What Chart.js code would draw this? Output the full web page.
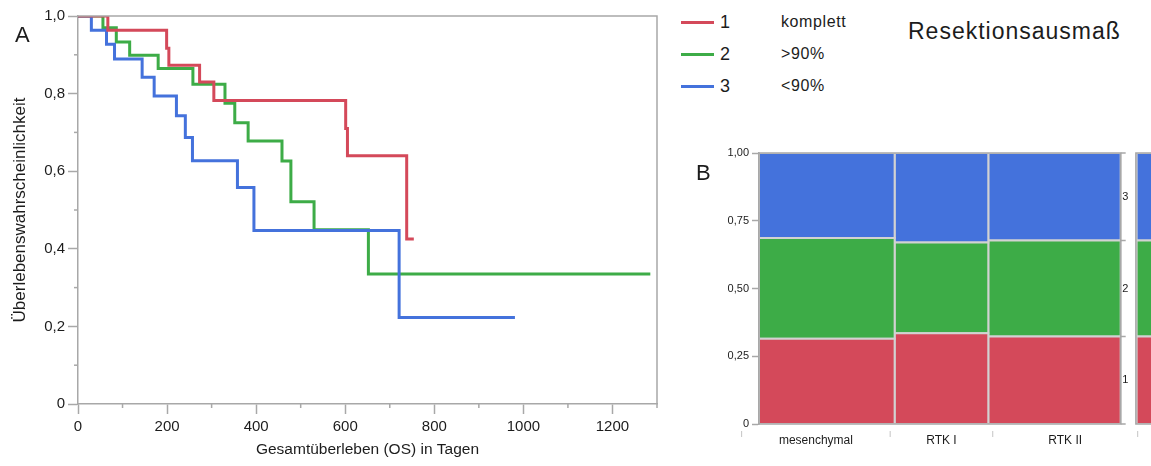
<!DOCTYPE html>
<html lang="de">
<head>
    <meta charset="UTF-8">
    <title>Überleben nach Resektionsausmaß</title>
    <style>
        body { margin: 0; background: #fff; font-family: 'Liberation Sans', Arial, sans-serif; color: #1c1c1c; }
        #blatt { position: relative; width: 1151px; height: 466px; overflow: hidden; }
        canvas { position: absolute; }
        #tafelA { left: 0; top: 0; }
        #tafelB { left: 680px; top: 140px; }
        .buchstabe { position: absolute; font-size: 22px; line-height: 1; }
        #legende { position: absolute; left: 681px; top: 6px; }
        .zeile { display: flex; align-items: center; height: 32px; }
        .strich { width: 33px; height: 3px; }
        .nr { font-size: 18px; margin-left: 6px; width: 61px; }
        .text { font-size: 16px; letter-spacing: 0.6px; }
        #titel { position: absolute; left: 908px; top: 20px; font-size: 23px; letter-spacing: 1px; line-height: 1; }
    </style>
</head>
<body>
<div id="blatt">
    <canvas id="tafelA" width="680" height="466"></canvas>
    <canvas id="tafelB" width="471" height="326"></canvas>
    <div class="buchstabe" style="left:15px; top:24px;">A</div>
    <div class="buchstabe" style="left:696px; top:162px;">B</div>
    <div id="legende"></div>
    <div id="titel">Resektionsausmaß</div>
</div>

<script src="https://cdn.jsdelivr.net/npm/chart.js"></script>
<script>
    // Kaplan-Meier: Tag des Ereignisses und Überlebenswahrscheinlichkeit danach
    const tage1 = [0, 67, 199, 204, 273, 305, 601, 605, 738, 754];
    const surv1 = [1.0, 0.963, 0.917, 0.873, 0.830, 0.782, 0.710, 0.640, 0.425, 0.425];
    const tage2 = [0, 56, 86, 116, 180, 258, 330, 352, 382, 458, 478, 530, 652, 1285];
    const surv2 = [1.0, 0.970, 0.933, 0.899, 0.865, 0.824, 0.775, 0.725, 0.678, 0.626, 0.521, 0.449, 0.335, 0.335];
    const tage3 = [0, 30, 64, 82, 144, 171, 221, 241, 257, 358, 395, 721, 981];
    const surv3 = [1.0, 0.963, 0.927, 0.889, 0.842, 0.794, 0.743, 0.687, 0.627, 0.558, 0.447, 0.223, 0.223];

    const gruppenNr = ['1', '2', '3'];
    const resektion = ['komplett', '>90%', '<90%'];

    // Mosaik: Anteil je Subtyp (Spaltenbreite) und Anteile der Resektionsgruppen
    const subtypen = ['mesenchymal', 'RTK I', 'RTK II'];
    const subtypAnteil = [0.375, 0.259, 0.366];
    const anteilKomplett = [0.315, 0.335, 0.3225];
    const anteilUeber90 = [0.371, 0.335, 0.3545];
    const anteilUnter90 = [0.314, 0.330, 0.323];
    const gesamtAnteil = [0.3225, 0.3545, 0.323];

    const farben = ['#d4495a', '#3dac47', '#4472dc'];
    const grau = '#a8a8a8';
    const schrift = "'Liberation Sans', Arial, sans-serif";
    Chart.defaults.font.family = schrift;
    Chart.defaults.color = '#1c1c1c';

    // Legende oben
    const legende = document.getElementById('legende');
    gruppenNr.forEach((nr, i) => {
        const z = document.createElement('div');
        z.className = 'zeile';
        z.innerHTML = '<div class="strich" style="background:' + farben[i] + '"></div>' +
            '<span class="nr">' + nr + '</span><span class="text"></span>';
        z.querySelector('.text').textContent = resektion[i];
        legende.appendChild(z);
    });

    // ---------- A: Überlebenskurven ----------
    const istHaupt = (achse, v) => achse === 'x' ? v % 200 === 0 : Math.round(v * 10) % 2 === 0;

    const rahmenA = {
        id: 'rahmenA',
        afterDraw(chart) {
            const {ctx, chartArea: a} = chart;
            ctx.save();
            ctx.strokeStyle = grau;
            ctx.lineWidth = 1.5;
            ctx.beginPath();
            ctx.moveTo(a.left, a.top);
            ctx.lineTo(a.right, a.top);
            ctx.lineTo(a.right, a.bottom);
            ctx.stroke();
            ['x', 'y'].forEach(id => {
                const s = chart.scales[id];
                s.ticks.forEach(t => {
                    if (istHaupt(id, t.value)) return;
                    const p = s.getPixelForValue(t.value);
                    ctx.beginPath();
                    if (id === 'x') { ctx.moveTo(p, a.bottom); ctx.lineTo(p, a.bottom + 4); }
                    else { ctx.moveTo(a.left, p); ctx.lineTo(a.left - 4, p); }
                    ctx.stroke();
                });
            });
            ctx.restore();
        }
    };

    function kurve(tage, surv, farbe, reihenfolge) {
        return {
            data: tage.map((t, i) => ({x: t, y: surv[i]})),
            borderColor: farbe,
            borderWidth: 3,
            stepped: 'before',
            pointRadius: 0,
            fill: false,
            order: reihenfolge
        };
    }

    new Chart(document.getElementById('tafelA'), {
        type: 'line',
        data: {
            datasets: [
                kurve(tage1, surv1, farben[0], 0),
                kurve(tage2, surv2, farben[1], 2),
                kurve(tage3, surv3, farben[2], 1)
            ]
        },
        options: {
            responsive: false,
            animation: false,
            layout: {padding: {top: 16, right: 23, left: 0, bottom: 0}},
            plugins: {legend: {display: false}, tooltip: {enabled: false}},
            scales: {
                x: {
                    type: 'linear', min: 0, max: 1300,
                    ticks: {
                        stepSize: 100, autoSkip: false, maxRotation: 0, padding: 4,
                        font: {size: 15},
                        callback: v => v % 200 === 0 ? String(v) : ''
                    },
                    grid: {
                        drawOnChartArea: false, tickLength: 10, tickWidth: 1.5,
                        tickColor: c => istHaupt('x', c.tick.value) ? grau : 'rgba(0,0,0,0)'
                    },
                    border: {color: grau, width: 1.5},
                    title: {display: true, text: 'Gesamtüberleben (OS) in Tagen', font: {size: 15.5}, padding: {top: 0, bottom: 7}},
                    afterFit: s => { s.height = 62; }
                },
                y: {
                    min: 0, max: 1,
                    ticks: {
                        stepSize: 0.1, autoSkip: false, padding: 3,
                        font: {size: 15},
                        callback: v => {
                            if (!istHaupt('y', v)) return '';
                            return v === 0 ? '0' : v.toFixed(1).replace('.', ',');
                        }
                    },
                    grid: {
                        drawOnChartArea: false, tickLength: 10, tickWidth: 1.5,
                        tickColor: c => istHaupt('y', c.tick.value) ? grau : 'rgba(0,0,0,0)'
                    },
                    border: {color: grau, width: 1.5},
                    title: {display: true, text: 'Überlebenswahrscheinlichkeit', font: {size: 17}, padding: {top: 10, bottom: 0}},
                    afterFit: s => { s.width = 78; }
                }
            }
        },
        plugins: [rahmenA]
    });

    // ---------- B: Mosaik Subtyp x Resektion ----------
    const randVon = 1.044;      // Beginn der Randspalte rechts
    const achseVon = -0.048;    // untere Kategorienachse
    const achseBis = 1.047;

    function rechteck(x0, x1, y0, y1, farbe) {
        return {
            data: [{x: x0, y: y0}, {x: x1, y: y0}, {x: x1, y: y1}, {x: x0, y: y1}, {x: x0, y: y0}],
            showLine: true,
            fill: 'shape',
            backgroundColor: farbe,
            borderColor: '#d2d2d2',
            borderWidth: 2,
            pointRadius: 0
        };
    }

    const reihen = [anteilKomplett, anteilUeber90, anteilUnter90];
    const zellen = [];
    let links = 0;
    subtypen.forEach((s, j) => {
        const rechts = links + subtypAnteil[j];
        let unten = 0;
        reihen.forEach((reihe, k) => {
            zellen.push(rechteck(links, rechts, unten, unten + reihe[j], farben[k]));
            unten += reihe[j];
        });
        links = rechts;
    });
    let untenRand = 0;
    gesamtAnteil.forEach((a, k) => {
        zellen.push(rechteck(randVon, 1.3, untenRand, untenRand + a, farben[k]));
        untenRand += a;
    });

    const rahmenB = {
        id: 'rahmenB',
        afterDraw(chart) {
            const {ctx, chartArea: a} = chart;
            const x = chart.scales.x, y = chart.scales.y;
            const px1 = x.getPixelForValue(1);
            const pxRand = x.getPixelForValue(randVon - 0.002);
            ctx.save();
            ctx.strokeStyle = grau;
            ctx.lineWidth = 1.5;
            ctx.strokeRect(a.left, a.top, px1 - a.left, a.bottom - a.top);
            ctx.beginPath();
            ctx.moveTo(chart.width, a.top); ctx.lineTo(pxRand, a.top);
            ctx.lineTo(pxRand, a.bottom); ctx.lineTo(chart.width, a.bottom);
            ctx.stroke();

            // rechte Achse: Grenzen und Namen der Resektionsgruppen
            ctx.fillStyle = '#1c1c1c';
            ctx.font = '11px ' + schrift;
            ctx.textAlign = 'center';
            ctx.textBaseline = 'middle';
            let u = 0;
            const grenzen = [0];
            gesamtAnteil.forEach((g, k) => {
                ctx.fillText(gruppenNr[k], px1 + 4.5, y.getPixelForValue(u + g / 2));
                u += g;
                grenzen.push(u);
            });
            ctx.beginPath();
            grenzen.forEach(g => {
                const py = y.getPixelForValue(Math.min(g, 1));
                ctx.moveTo(px1, py); ctx.lineTo(px1 + 5, py);
            });
            ctx.stroke();

            // untere Achse: Subtypen
            const abb = v => x.getPixelForValue(achseVon + v * (achseBis - achseVon));
            ctx.strokeStyle = '#c4c4c4';
            ctx.lineWidth = 1;
            ctx.font = '12px ' + schrift;
            let kum = 0;
            ctx.beginPath();
            ctx.moveTo(abb(0), a.bottom + 7); ctx.lineTo(abb(0), a.bottom + 13);
            subtypen.forEach((s, j) => {
                const von = kum;
                kum += subtypAnteil[j];
                ctx.moveTo(abb(kum), a.bottom + 7); ctx.lineTo(abb(kum), a.bottom + 13);
                ctx.fillText(s, (abb(von) + abb(kum)) / 2, a.bottom + 17);
            });
            ctx.stroke();
            ctx.restore();
        }
    };

    new Chart(document.getElementById('tafelB'), {
        type: 'scatter',
        data: {datasets: zellen},
        options: {
            responsive: false,
            animation: false,
            layout: {padding: {top: 13, right: 0, left: 0, bottom: 42}},
            plugins: {legend: {display: false}, tooltip: {enabled: false}},
            scales: {
                x: {type: 'linear', min: 0, max: 1.0838, display: false},
                y: {
                    min: 0, max: 1,
                    ticks: {
                        stepSize: 0.25, padding: 3, font: {size: 11},
                        callback: v => v === 0 ? '0' : v.toFixed(2).replace('.', ',')
                    },
                    grid: {drawOnChartArea: false, tickLength: 7, tickColor: grau, tickWidth: 1.5},
                    border: {color: grau, width: 1.5},
                    afterFit: s => { s.width = 79; }
                }
            }
        },
        plugins: [rahmenB]
    });
</script>
</body>
</html>
